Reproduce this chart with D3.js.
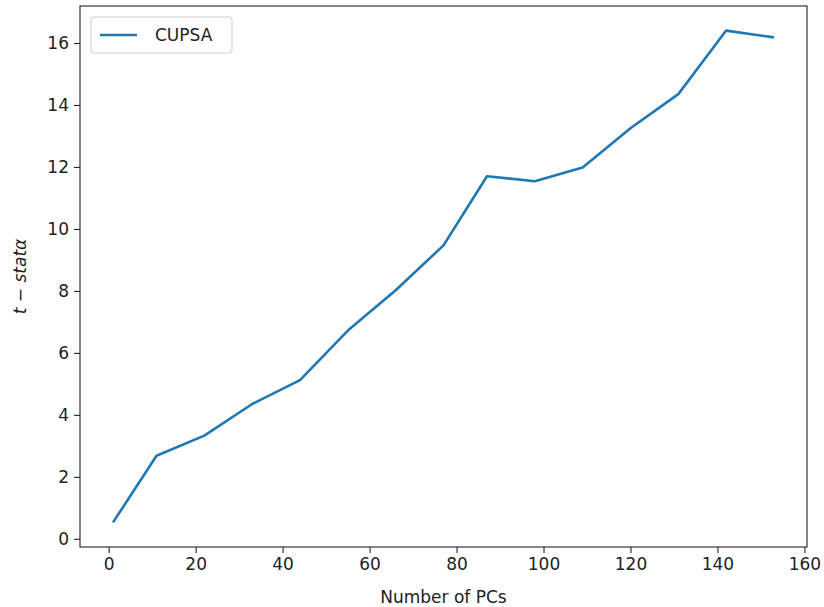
<!DOCTYPE html>
<html>
<head>
<meta charset="utf-8">
<script src="https://cdn.jsdelivr.net/npm/d3@7"></script>
<style>
  body { margin: 0; background: #fff; }
  svg { font-family: "DejaVu Sans", sans-serif; }
</style>
</head>
<body>
<div id="chart"></div>
<script>
// number of PCs and the t-stat of alpha
const pcs = [1, 11, 22, 33, 44, 55, 66, 77, 87, 98, 109, 120, 131, 142, 153]
const tstat = [0.53, 2.68, 3.33, 4.35, 5.12, 6.72, 8.02, 9.47, 11.70, 11.54, 11.98, 13.25, 14.35, 16.40, 16.18]
const xTicks = [0, 20, 40, 60, 80, 100, 120, 140, 160]
const yTicks = [0, 2, 4, 6, 8, 10, 12, 14, 16]
const seriesName = "CUPSA"

let width = 824,
    height = 607
let box = { left: 80, right: 807, top: 6, bottom: 547 }

let svg = d3.select("#chart")
    .append("svg")
    .attr("width", width)
    .attr("height", height)

// matplotlib style 5% padding
let xPad = (d3.max(pcs) - d3.min(pcs)) * 0.05
let yPad = (d3.max(tstat) - d3.min(tstat)) * 0.05
let x = d3.scaleLinear()
    .domain([d3.min(pcs) - xPad, d3.max(pcs) + xPad])
    .range([box.left, box.right])
let y = d3.scaleLinear()
    .domain([d3.min(tstat) - yPad, d3.max(tstat) + yPad])
    .range([box.bottom, box.top])

let fontSize = 17

// axes
let xAxis = svg.append("g")
    .attr("transform", `translate(0,${box.bottom})`)
    .call(d3.axisBottom(x).tickValues(xTicks).tickSize(6).tickPadding(5).tickFormat(d3.format("d")))
let yAxis = svg.append("g")
    .attr("transform", `translate(${box.left},0)`)
    .call(d3.axisLeft(y).tickValues(yTicks).tickSize(6).tickPadding(5).tickFormat(d3.format("d")))
;[xAxis, yAxis].forEach(g => {
    g.select(".domain").remove()
    g.selectAll(".tick line").attr("stroke", "#222").attr("stroke-width", 1.1)
    g.selectAll(".tick text")
        .attr("fill", "#222")
        .attr("font-size", fontSize)
        .attr("font-family", "DejaVu Sans")
})

// frame
svg.append("rect")
    .attr("x", box.left)
    .attr("y", box.top)
    .attr("width", box.right - box.left)
    .attr("height", box.bottom - box.top)
    .attr("fill", "none")
    .attr("stroke", "#222")
    .attr("stroke-width", 1.1)

// line
let line = d3.line()
    .x((d, i) => x(pcs[i]))
    .y(d => y(d))
svg.append("path")
    .datum(tstat)
    .attr("fill", "none")
    .attr("stroke", "#1f77b4")
    .attr("stroke-width", 2.6)
    .attr("stroke-linejoin", "round")
    .attr("d", line)

// axis labels
svg.append("text")
    .attr("x", (box.left + box.right) / 2)
    .attr("y", 603)
    .attr("text-anchor", "middle")
    .attr("font-size", fontSize)
    .attr("fill", "#222")
    .text("Number of PCs")
let yl = svg.append("text")
    .attr("transform", `translate(26,${(box.top + box.bottom) / 2}) rotate(-90)`)
    .attr("text-anchor", "middle")
    .attr("font-size", fontSize)
    .attr("fill", "#222")
yl.append("tspan").attr("font-style", "italic").text("t")
yl.append("tspan").text(" − ")
yl.append("tspan").attr("font-style", "italic").text("statα")

// legend
let lg = svg.append("g").attr("transform", `translate(${box.left + 11},${box.top + 11})`)
lg.append("rect")
    .attr("width", 141)
    .attr("height", 36)
    .attr("rx", 3)
    .attr("fill", "#fff")
    .attr("fill-opacity", 0.8)
    .attr("stroke", "#ccc")
lg.append("path")
    .attr("stroke", "#1f77b4")
    .attr("stroke-width", 2.6)
    .attr("d", "M9,18 H46")
lg.append("text")
    .attr("x", 64)
    .attr("y", 24)
    .attr("font-size", fontSize)
    .attr("fill", "#222")
    .text(seriesName)
</script>
</body>
</html>
